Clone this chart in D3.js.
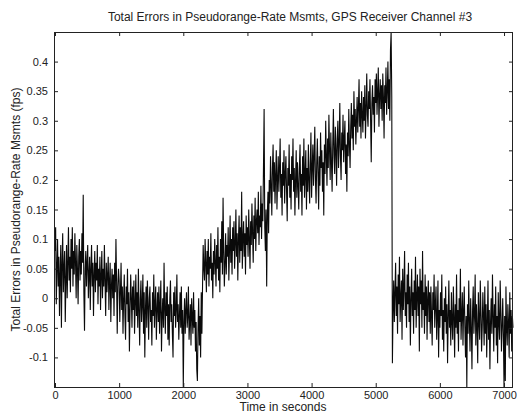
<!DOCTYPE html>
<html>
<head>
<meta charset="utf-8">
<script src="https://cdn.jsdelivr.net/npm/d3@7"></script>
<style>
  body { margin: 0; background: #fff; }
  text { font-family: "Liberation Sans", Arial, Helvetica, sans-serif; fill: #222; }
</style>
</head>
<body>
<div id="chart"></div>
<script>
// --------------------------------------
//  Data (errors in fps, one sample every 10 s)
// --------------------------------------

const sampleStep = 10;

const errors0000 = [0.08,0.12,-0.01,0.05,0.10,0.02,0.07,-0.03,0.04,0.09,
  -0.05,0.06,0.11,0.01,0.05,0.08,-0.04,0.03,0.09,0.00,
  0.06,0.12,0.03,0.07,0.01,0.10,0.05,0.12,0.02,0.08,
  0.04,0.11,0.06,0.00,0.09,0.05,-0.01,0.07,0.10,0.03,
  0.08,0.04,0.11,0.06,0.175,0.01,-0.055,0.05,0.08,0.02,
  0.06,0.09,0.00,0.04,0.07,-0.02,0.05,0.09,0.02,0.06,
  -0.03,0.04,0.08,0.01,0.06,0.03,0.09,-0.01,0.05,0.02,
  0.07,-0.02,0.04,0.08,0.00,0.05,0.02,0.09,0.03,-0.03,
  0.06,0.01,0.04,0.07,-0.02,0.03,0.06,-0.04,0.02,0.05,
  0.00,0.04,-0.03,0.06,0.01,0.10,0.03,-0.06,0.02,0.05];
const errors1000 = [0.03,-0.04,0.01,0.06,-0.02,0.02,-0.06,0.00,0.04,-0.03,
  -0.07,0.02,-0.01,0.05,-0.04,0.01,-0.09,-0.02,0.04,0.00,
  -0.05,0.02,-0.02,0.03,-0.06,-0.01,0.04,-0.03,0.01,-0.05,
  0.05,-0.02,-0.08,0.00,0.03,-0.04,-0.01,0.04,-0.06,0.01,
  -0.10,-0.02,0.02,-0.05,0.03,-0.01,-0.07,0.00,0.02,-0.04,
  -0.02,-0.08,0.01,-0.03,0.04,-0.05,-0.01,0.02,-0.07,-0.02,
  0.01,-0.04,0.02,-0.06,-0.01,0.03,-0.09,-0.03,0.00,-0.05,
  0.06,-0.02,-0.06,0.01,-0.03,0.02,-0.07,-0.01,-0.08,0.00,
  0.03,-0.04,-0.01,-0.06,-0.10,0.01,-0.03,0.02,-0.05,-0.02,
  0.04,-0.04,-0.01,-0.07,-0.03,0.01,-0.05,0.02,-0.06,-0.02];
const errors2000 = [-0.15,-0.04,0.00,-0.06,-0.02,0.01,-0.05,-0.03,0.02,-0.07,
  -0.04,-0.01,-0.08,0.00,-0.03,-0.06,0.01,-0.05,-0.02,-0.09,
  -0.04,-0.12,-0.14,-0.05,0.00,-0.08,-0.03,-0.10,0.01,-0.06,
  0.02,0.09,0.05,0.03,0.10,0.06,0.01,0.08,0.04,0.10,
  0.02,0.07,0.05,0.11,0.03,0.06,0.00,0.08,0.04,0.10,
  0.06,0.02,0.09,0.05,0.12,0.03,0.07,0.01,0.10,0.06,
  0.13,0.04,0.17,0.08,0.02,0.06,0.11,0.04,0.09,0.07,
  0.12,0.03,0.08,0.14,0.06,0.10,0.04,0.12,0.08,0.13,
  0.05,0.09,0.15,0.07,0.11,0.03,0.10,0.14,0.06,0.12,
  0.08,0.18,0.05,0.10,0.13,0.07,0.11,0.04,0.14,0.09];
const errors3000 = [0.12,0.07,0.15,0.10,0.05,0.13,0.09,0.16,0.11,0.06,
  0.14,0.10,0.17,0.08,0.13,0.15,0.11,0.18,0.09,0.14,
  0.12,0.19,0.10,0.16,0.13,0.22,0.32,0.12,0.08,0.15,
  0.02,0.14,0.18,0.11,0.20,0.16,0.24,0.19,0.14,0.22,
  0.26,0.18,0.23,0.16,0.21,0.25,0.15,0.20,0.24,0.18,
  0.22,0.27,0.17,0.21,0.14,0.23,0.19,0.25,0.16,0.21,
  0.24,0.18,0.13,0.22,0.19,0.26,0.17,0.21,0.15,0.24,
  0.20,0.27,0.18,0.22,0.14,0.20,0.25,0.17,0.23,0.19,
  0.15,0.22,0.26,0.18,0.21,0.14,0.24,0.19,0.27,0.17,
  0.21,0.25,0.15,0.22,0.18,0.26,0.20,0.16,0.23,0.28];
const errors4000 = [0.17,0.22,0.26,0.19,0.24,0.29,0.20,0.16,0.23,0.27,
  0.21,0.15,0.24,0.19,0.28,0.22,0.25,0.18,0.23,0.14,
  0.26,0.21,0.30,0.24,0.19,0.27,0.22,0.31,0.25,0.20,
  0.28,0.23,0.18,0.26,0.32,0.24,0.21,0.29,0.25,0.19,
  0.27,0.30,0.22,0.26,0.33,0.24,0.20,0.28,0.25,0.31,
  0.23,0.27,0.30,0.21,0.26,0.18,0.28,0.24,0.32,0.26,
  0.22,0.29,0.33,0.27,0.31,0.25,0.35,0.29,0.32,0.26,
  0.30,0.34,0.28,0.32,0.37,0.29,0.33,0.27,0.35,0.31,
  0.28,0.34,0.30,0.36,0.27,0.32,0.38,0.31,0.29,0.35,
  0.32,0.37,0.30,0.23,0.33,0.36,0.31,0.34,0.28,0.37];
const errors5000 = [0.33,0.38,0.31,0.35,0.39,0.29,0.34,0.37,0.32,0.36,
  0.30,0.38,0.34,0.27,0.36,0.33,0.39,0.31,0.35,0.40,
  0.32,0.37,0.30,0.42,0.45,0.34,-0.11,-0.02,0.03,-0.04,
  0.01,0.06,-0.03,0.02,-0.06,0.04,-0.01,0.07,-0.04,0.00,
  0.03,-0.07,0.05,-0.02,0.02,0.08,-0.03,0.01,-0.05,0.04,
  -0.01,0.06,-0.04,0.02,-0.08,0.00,0.05,-0.03,0.01,-0.06,
  0.03,-0.02,0.07,-0.05,0.00,0.04,-0.03,0.02,-0.09,0.05,
  -0.01,0.03,-0.05,0.08,-0.02,0.01,-0.06,0.04,-0.03,0.02,
  -0.07,0.00,0.03,-0.04,0.01,-0.06,0.02,-0.03,-0.08,0.01,
  -0.02,0.04,-0.05,-0.01,0.02,-0.07,-0.03,0.03,-0.10,-0.02];
const errors6000 = [-0.05,0.01,-0.03,0.04,-0.07,-0.02,-0.09,0.00,-0.04,0.02,
  -0.06,-0.01,-0.11,-0.03,0.03,-0.05,-0.02,-0.08,0.01,-0.04,
  -0.07,0.02,-0.03,-0.10,-0.01,-0.05,0.04,-0.06,-0.02,-0.09,
  0.00,-0.04,0.05,-0.07,-0.03,0.01,-0.08,-0.02,0.02,-0.05,
  -0.10,-0.03,-0.15,-0.01,-0.06,0.03,-0.04,-0.09,0.00,-0.05,
  -0.12,-0.02,0.02,-0.06,-0.03,0.04,-0.08,-0.01,-0.05,-0.11,
  0.01,-0.04,-0.07,0.03,-0.02,-0.09,-0.05,0.01,-0.03,-0.08,
  0.02,-0.06,-0.01,-0.10,-0.04,0.03,-0.07,-0.02,-0.12,-0.04,
  0.00,-0.06,0.04,-0.03,-0.09,-0.01,-0.05,0.02,-0.08,-0.03,
  -0.11,0.01,-0.04,-0.07,0.03,-0.02,-0.09,-0.05,0.00,-0.06,
  -0.15,-0.03,-0.14,0.02,-0.05,-0.08,-0.01,-0.04,-0.10,0.01,
  -0.06,-0.02,-0.09,-0.03,-0.05];

const xTicks = [0, 1000, 2000, 3000, 4000, 5000, 6000, 7000];
const yTicks = [-0.1, -0.05, 0, 0.05, 0.1, 0.15, 0.2, 0.25, 0.3, 0.35, 0.4];

const errors = [].concat(errors0000, errors1000, errors2000, errors3000, errors4000, errors5000, errors6000);
const data = errors.map((v, i) => ({ t: i * sampleStep, v: v }));

// --------------------------------------
//  Canvas
// --------------------------------------

const width = 517, height = 414;
const margin = { top: 32, right: 4, bottom: 27, left: 54 };

const svg = d3.select("#chart")
  .append("svg")
    .attr("width", width)
    .attr("height", height);

const x = d3.scaleLinear()
  .domain([0, 7140])
  .range([margin.left + 1, width - margin.right]);

const y = d3.scaleLinear()
  .domain([-0.15, 0.45])
  .range([height - margin.bottom, margin.top]);

// --------------------------------------
//  Line
// --------------------------------------

const line = d3.line()
  .x(d => x(d.t))
  .y(d => y(d.v));

svg.append("path")
  .datum(data)
  .attr("fill", "none")
  .attr("stroke", "#0a0a0a")
  .attr("stroke-width", 1.1)
  .attr("d", line);

// --------------------------------------
//  Axes (box with inward ticks on all sides)
// --------------------------------------

const fmt = d => String(+d.toFixed(2));

const bottomAxis = d3.axisBottom(x).tickValues(xTicks).tickSize(-4).tickPadding(4).tickFormat(d3.format("d"));
const topAxis = d3.axisTop(x).tickValues(xTicks).tickSize(-4).tickFormat("");
const leftAxis = d3.axisLeft(y).tickValues(yTicks).tickSize(-4).tickPadding(6).tickFormat(fmt);
const rightAxis = d3.axisRight(y).tickValues(yTicks).tickSize(-4).tickFormat("");

const styleAxis = g => {
  g.select(".domain").remove();
  g.selectAll(".tick line").attr("stroke", "#222");
  g.selectAll(".tick text").attr("font-size", 11).style("fill", "#222");
};

svg.append("g")
  .attr("transform", `translate(0, ${y(-0.15)})`)
  .call(bottomAxis).call(styleAxis);

svg.append("g")
  .attr("transform", `translate(0, ${y(0.45)})`)
  .call(topAxis).call(styleAxis);

svg.append("g")
  .attr("transform", `translate(${margin.left}, 0)`)
  .call(leftAxis).call(styleAxis);

svg.append("g")
  .attr("transform", `translate(${width - margin.right}, 0)`)
  .call(rightAxis).call(styleAxis);

svg.append("rect")
  .attr("x", margin.left + 0.5)
  .attr("y", y(0.45) + 0.5)
  .attr("width", width - margin.right - margin.left - 1)
  .attr("height", y(-0.15) - y(0.45))
  .attr("fill", "none")
  .attr("stroke", "#222")
  .attr("stroke-width", 1);

// --------------------------------------
//  Labels
// --------------------------------------

svg.append("text")
  .attr("x", 290)
  .attr("y", 21)
  .attr("text-anchor", "middle")
  .attr("font-size", 12)
  .text("Total Errors in Pseudorange-Rate Msmts, GPS Receiver Channel #3");

svg.append("text")
  .attr("x", 283)
  .attr("y", 411)
  .attr("text-anchor", "middle")
  .attr("font-size", 12)
  .text("Time in seconds");

svg.append("text")
  .attr("transform", `translate(20, ${y(0.15)}) rotate(-90)`)
  .attr("text-anchor", "middle")
  .attr("font-size", 12)
  .text("Total Errors in Pseudorange-Rate Msmts (fps)");
</script>
</body>
</html>
